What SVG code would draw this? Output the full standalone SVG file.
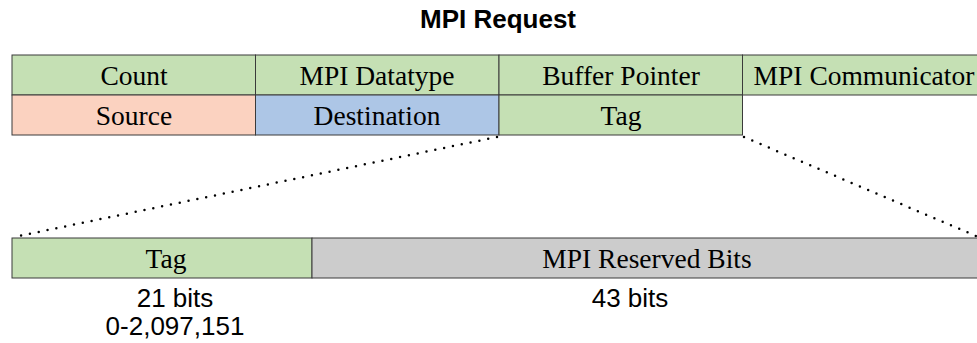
<svg xmlns="http://www.w3.org/2000/svg" width="977" height="343" viewBox="0 0 977 343">
<style>
.c{stroke:#3a3a3a;stroke-width:1}
.g{fill:#c5e0b4}
.s{fill:#fbd2c0}
.b{fill:#adc6e6}
.r{fill:#cccccc}
.t{font-family:"Liberation Serif",serif;font-size:27.5px;fill:#000;text-anchor:middle}
.l{font-family:"Liberation Sans",Arial,sans-serif;font-size:26px;fill:#000;text-anchor:middle}
.d{stroke:#000;stroke-width:2.5;stroke-linecap:round;stroke-dasharray:0 9;fill:none}
</style>
<rect width="977" height="343" fill="#fff"/>
<text x="498" y="28" font-family="Liberation Sans,Arial,sans-serif" font-size="26" font-weight="bold" text-anchor="middle">MPI Request</text>
<g id="count"><rect class="c g" x="12" y="55" width="243.5" height="40"/><text class="t" x="134" y="85">Count</text></g>
<g id="datatype"><rect class="c g" x="255.5" y="55" width="243.5" height="40"/><text class="t" x="377" y="85">MPI Datatype</text></g>
<g id="bufptr"><rect class="c g" x="499" y="55" width="243.5" height="40"/><text class="t" x="621" y="85">Buffer Pointer</text></g>
<g id="comm"><rect class="c g" x="742.5" y="55" width="243.5" height="40"/><text class="t" x="864" y="85">MPI Communicator</text></g>
<g id="source"><rect class="c s" x="12" y="95" width="243.5" height="40"/><text class="t" x="134" y="125">Source</text></g>
<g id="dest"><rect class="c b" x="255.5" y="95" width="243.5" height="40"/><text class="t" x="377" y="125">Destination</text></g>
<g id="tag"><rect class="c g" x="499" y="95" width="243.5" height="40"/><text class="t" x="621" y="125">Tag</text></g>
<g id="connectors">
<line class="d" x1="497" y1="137" x2="14" y2="237"/>
<line class="d" x1="744" y1="137" x2="976" y2="236"/>
</g>
<g id="tag21"><rect class="c g" x="12" y="238" width="300" height="40"/><text class="t" x="166" y="268">Tag</text>
<text class="l" x="175" y="307">21 bits</text><text class="l" x="175" y="335">0-2,097,151</text></g>
<g id="reserved"><rect class="c r" x="312" y="238" width="680" height="40"/><text class="t" x="647" y="268">MPI Reserved Bits</text>
<text class="l" x="630" y="307">43 bits</text></g>
</svg>
